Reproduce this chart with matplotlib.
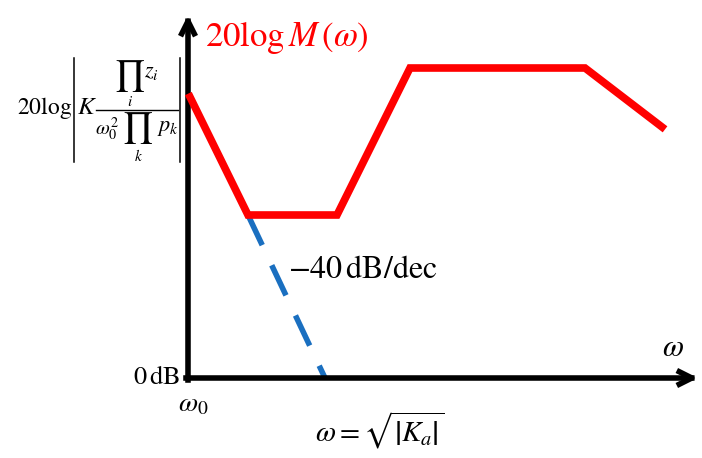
import matplotlib
matplotlib.use("Agg")
import matplotlib.pyplot as plt

plt.rcParams['mathtext.fontset'] = 'stix'
plt.rcParams['font.family'] = ['Liberation Serif', 'DejaVu Serif']

# schematic magnitude plot: x in log-frequency units, y in dB units
RED_X = [2, 60, 149, 222, 397, 474]
RED_Y = [281, 163, 163, 310, 310, 251]
SLOPE_X = [60, 137]
SLOPE_Y = [163, 0]

TITLE = r'$20\log M\,(\omega)$'
SLOPE_LABEL = r'$-40\,\mathrm{dB/dec}$'
ZERO_LABEL = r'$0\,\mathrm{dB}$'
CROSS_LABEL = r'$\omega=\sqrt{\left|K_a\right|}$'


def gain_label(ax):
    # 20log|K prod_i z_i / (w0^2 prod_k p_k)|, set piece by piece
    ax.text(-171, 270, r'$20\log$', fontsize=17, ha='left', va='center')
    ax.plot([-114, -114], [216, 320], color='black', lw=1.1)
    ax.plot([-8, -8], [216, 320], color='black', lw=1.1)
    ax.text(-111, 270, r'$K$', fontsize=18, ha='left', va='center')
    ax.plot([-92, -10], [268, 268], color='black', lw=1.0)
    # numerator
    ax.text(-59, 302, r'$\prod$', fontsize=22, ha='center', va='center')
    ax.text(-58, 276, r'$i$', fontsize=11, ha='center', va='center')
    ax.text(-44, 305, r'$z_i$', fontsize=16, ha='left', va='center')
    # denominator
    ax.text(-93, 249, r'$\omega_0^2$', fontsize=14.5, ha='left', va='center')
    ax.text(-51, 250, r'$\prod$', fontsize=22, ha='center', va='center')
    ax.text(-49, 222, r'$k$', fontsize=11, ha='center', va='center')
    ax.text(-31, 249, r'$p_k$', fontsize=16, ha='left', va='center')


def main():
    fig = plt.figure(figsize=(7.02, 4.58), dpi=100)
    ax = fig.add_axes([0, 0, 1, 1])
    ax.set_xlim(-188, 514)
    ax.set_ylim(-80, 378)
    ax.axis('off')

    # axes arrows
    arrow = dict(arrowstyle='->,head_length=0.9,head_width=0.45', lw=4,
                 color='black', shrinkA=0, shrinkB=0, capstyle='projecting')
    ax.annotate('', xy=(0, 363), xytext=(0, -2), arrowprops=arrow)
    ax.annotate('', xy=(510, 0), xytext=(-2, 0), arrowprops=arrow)

    ax.plot(SLOPE_X, SLOPE_Y, color='#1a6fc0', lw=4, dashes=(6, 4), zorder=2)
    ax.plot(RED_X, RED_Y, color='red', lw=5.5, solid_joinstyle='miter',
            zorder=3)

    gain_label(ax)

    ax.text(17, 340, TITLE, color='red', fontsize=25, ha='left', va='center')
    ax.text(100, 108, SLOPE_LABEL, fontsize=23, ha='left', va='center')
    ax.text(-8, 0, ZERO_LABEL, fontsize=19, ha='right', va='center')
    ax.text(485, 30, r'$\omega$', fontsize=22, ha='center', va='center')
    ax.text(-10, -27, r'$\omega_0$', fontsize=20, ha='left', va='center')
    ax.text(127, -52, CROSS_LABEL, fontsize=21, ha='left', va='center')

    fig.savefig('out.png', dpi=100)


if __name__ == "__main__":
    main()
